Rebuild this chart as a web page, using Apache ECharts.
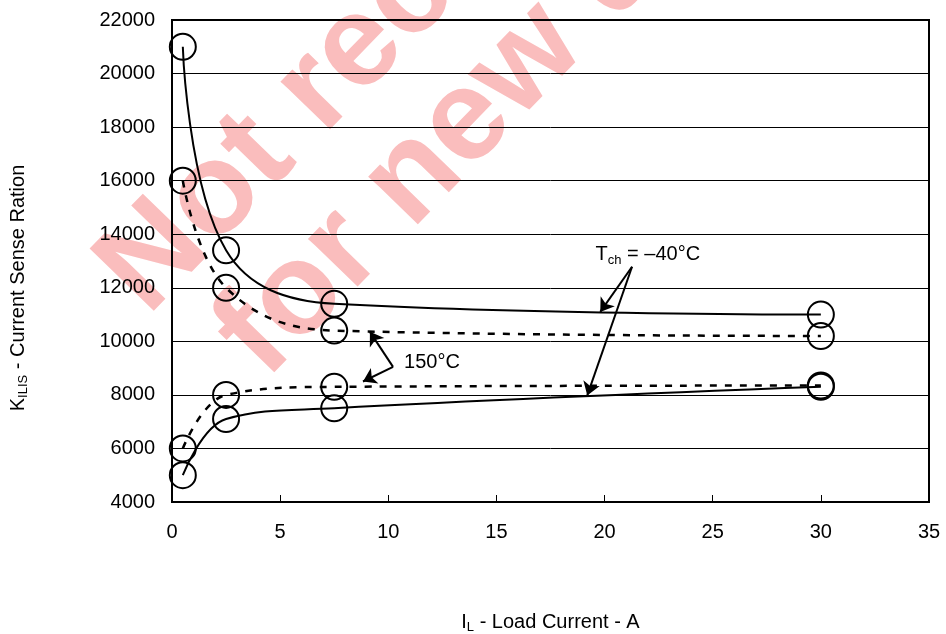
<!DOCTYPE html>
<html>
<head>
<meta charset="utf-8">
<script src="https://cdn.jsdelivr.net/npm/echarts@6/dist/echarts.min.js"></script>
<style>
html,body{margin:0;padding:0;background:#fff;}
#chart{width:946px;height:634px;}
</style>
</head>
<body>
<div id="chart"></div>
<script>
// ---- data ----
const loadCurrent = [0.5, 2.5, 7.5, 30];           // A
const kMinus40Upper = [21000, 13400, 11400, 11000];
const kMinus40Lower = [5000, 7100, 7500, 8300];
const k150Upper = [16000, 12000, 10400, 10200];
const k150Lower = [6000, 8000, 8300, 8350];

const xTickMin = 0, xTickMax = 35, xTickStep = 5;
const yTickMin = 4000, yTickMax = 22000, yTickStep = 2000;

// annotations (data space)
const tchLabelAt = [22.0, 13230];
const tchArrowFrom = [21.27, 12785];
const tchArrowTo = [[19.8, 11100], [19.2, 7980]];
const hotLabelAt = [10.73, 9196];
const hotArrowFrom = [10.22, 9047];
const hotArrowTo = [[9.15, 10355], [8.83, 8500]];

const FONT = 'Liberation Sans, Arial, sans-serif';

function pairs(xs, ys) { return xs.map((x, i) => [x, ys[i]]); }

function arrowLines(from, tos) {
  return tos.map(t => [{ coord: from }, { coord: t }]);
}

const chart = echarts.init(document.getElementById('chart'), null, { renderer: 'canvas' });

const markerStyle = { color: 'rgba(0,0,0,0)', borderColor: '#000', borderWidth: 2 };

function curve(name, ys, dashed, extra) {
  return Object.assign({
    name: name,
    type: 'line',
    data: pairs(loadCurrent, ys),
    smooth: 0.4,
    symbol: 'circle',
    symbolSize: 26,
    showAllSymbol: true,
    itemStyle: markerStyle,
    lineStyle: dashed ? { color: '#000', width: 2.5, type: [7, 8] } : { color: '#000', width: 2 },
    emphasis: { disabled: true },
    animation: false,
    z: 3
  }, extra || {});
}

const subRich = {
  m: { fontFamily: FONT, fontSize: 20, color: '#000', lineHeight: 24 },
  s: { fontFamily: FONT, fontSize: 13, color: '#000', lineHeight: 14, verticalAlign: 'bottom' }
};

const option = {
  animation: false,
  backgroundColor: '#fff',
  grid: { left: 172, right: 17, top: 20, bottom: 132, containLabel: false, outerBoundsMode: 'none', show: true, borderColor: '#000', borderWidth: 2, backgroundColor: 'rgba(0,0,0,0)' },
  xAxis: {
    type: 'value', min: xTickMin, max: xTickMax, interval: xTickStep,
    axisLine: { show: true, lineStyle: { color: '#000', width: 2 } },
    axisTick: { show: true, inside: true, length: 7, lineStyle: { color: '#000', width: 1 } },
    axisLabel: { color: '#000', fontFamily: FONT, fontSize: 20, margin: 20 },
    splitLine: { show: false },
    name: '{m|I}{s|L}{m| - Load Current - A}',
    nameLocation: 'middle', nameGap: 108,
    nameTextStyle: { rich: subRich }
  },
  yAxis: {
    type: 'value', min: yTickMin, max: yTickMax, interval: yTickStep,
    axisLine: { show: true, lineStyle: { color: '#000', width: 2 } },
    axisTick: { show: false },
    axisLabel: { color: '#000', fontFamily: FONT, fontSize: 20, margin: 17, formatter: v => String(v) },
    splitLine: { show: true, lineStyle: { color: '#000', width: 1 } },
    name: '{m|K}{s|ILIS}{m| - Current Sense Ration}',
    nameLocation: 'middle', nameGap: 142,
    nameTextStyle: { rich: subRich, padding: [0, 54, 0, 0] }
  },
  series: [
    curve('Tch = -40°C (upper)', kMinus40Upper, false, {
      markLine: {
        silent: true, animation: false,
        symbol: ['none', 'arrow'], symbolSize: 13,
        lineStyle: { color: '#000', width: 2, type: 'solid' },
        itemStyle: { color: '#000' },
        label: { show: false },
        emphasis: { disabled: true },
        data: arrowLines(tchArrowFrom, tchArrowTo).concat(arrowLines(hotArrowFrom, hotArrowTo))
      }
    }),
    curve('Tch = -40°C (lower)', kMinus40Lower, false),
    curve('150°C (upper)', k150Upper, true),
    curve('150°C (lower)', k150Lower, true)
  ]
};

chart.setOption(option);

const p1 = chart.convertToPixel({ gridIndex: 0 }, tchLabelAt);
const p2 = chart.convertToPixel({ gridIndex: 0 }, hotLabelAt);

chart.setOption({
  graphic: [
    {
      type: 'text', z: -10, x: 122, y: 292, rotation: 0.8,
      style: { text: 'Not recommended', fill: '#fabdbd', font: 'bold 130px ' + FONT, textAlign: 'left', textVerticalAlign: 'middle' }
    },
    {
      type: 'text', z: -10, x: 240, y: 356, rotation: 0.8,
      style: { text: 'for new design', fill: '#fabdbd', font: 'bold 130px ' + FONT, textAlign: 'left', textVerticalAlign: 'middle' }
    },
    {
      type: 'text', z: 10, x: p1[0], y: p1[1],
      style: {
        text: '{m|T}{s|ch}{m| = –40°C}', textAlign: 'center', textVerticalAlign: 'middle',
        rich: {
          m: { fontFamily: FONT, fontSize: 20, fill: '#000', lineHeight: 24 },
          s: { fontFamily: FONT, fontSize: 13, fill: '#000', lineHeight: 14, verticalAlign: 'bottom' }
        }
      }
    },
    {
      type: 'text', z: 10, x: p2[0], y: p2[1],
      style: { text: '150°C', font: '20px ' + FONT, fill: '#000', textAlign: 'left', textVerticalAlign: 'middle' }
    }
  ]
});
</script>
</body>
</html>
